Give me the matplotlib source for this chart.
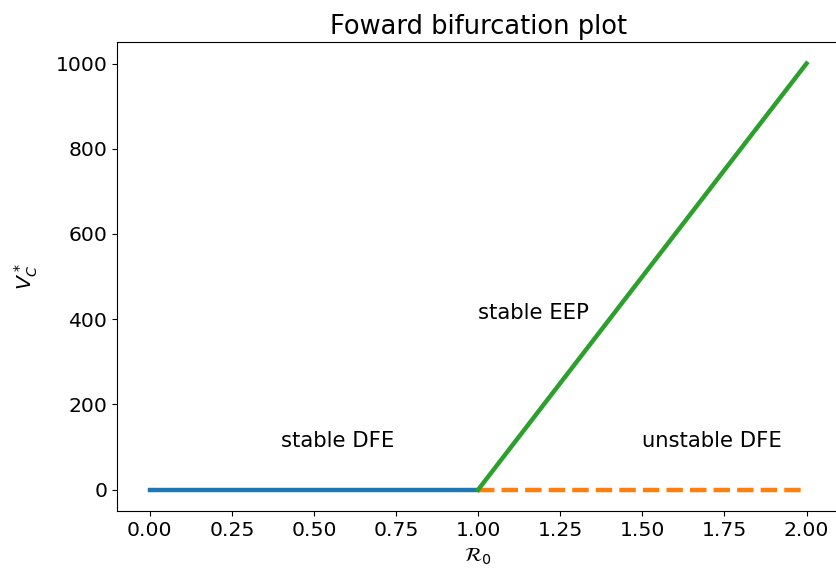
import numpy as np
import matplotlib
matplotlib.use("Agg")
import matplotlib.pyplot as plt

# bifurcation branches (R0 values, equilibrium V_C*)
r0_dfe_stable = [0.0, 1.0]
vc_dfe_stable = [0.0, 0.0]
r0_dfe_unstable = [1.0, 2.0]
vc_dfe_unstable = [0.0, 0.0]
r0_eep = [1.0, 2.0]
vc_eep = [0.0, 1000.0]

region_labels = ["stable DFE", "stable EEP", "unstable DFE"]
region_pos = [(0.4, 100), (1.0, 400), (1.5, 100)]

plt.rcParams['font.size'] = 14.7

fig = plt.figure(figsize=(8.36, 5.78), dpi=100)
ax = fig.add_axes([0.14, 0.116, 0.864, 0.811])

ax.plot(r0_dfe_stable, vc_dfe_stable, color='C0', lw=3.2)
ax.plot(r0_dfe_unstable, vc_dfe_unstable, color='C1', lw=3.2, ls='--')
ax.plot(r0_eep, vc_eep, color='C2', lw=3.2)

for txt, (x, y) in zip(region_labels, region_pos):
    ax.text(x, y, txt, fontsize=15.2)

ax.set_xticks(np.arange(0, 2.01, 0.25))
ax.set_yticks([0, 200, 400, 600, 800, 1000])
ax.set_xlabel(r'$\mathcal{R}_0$')
ax.set_ylabel(r'$V_C^*$', labelpad=11)
ax.set_title('Foward bifurcation plot', fontsize=18.5)

fig.savefig('out.png', dpi=100)
